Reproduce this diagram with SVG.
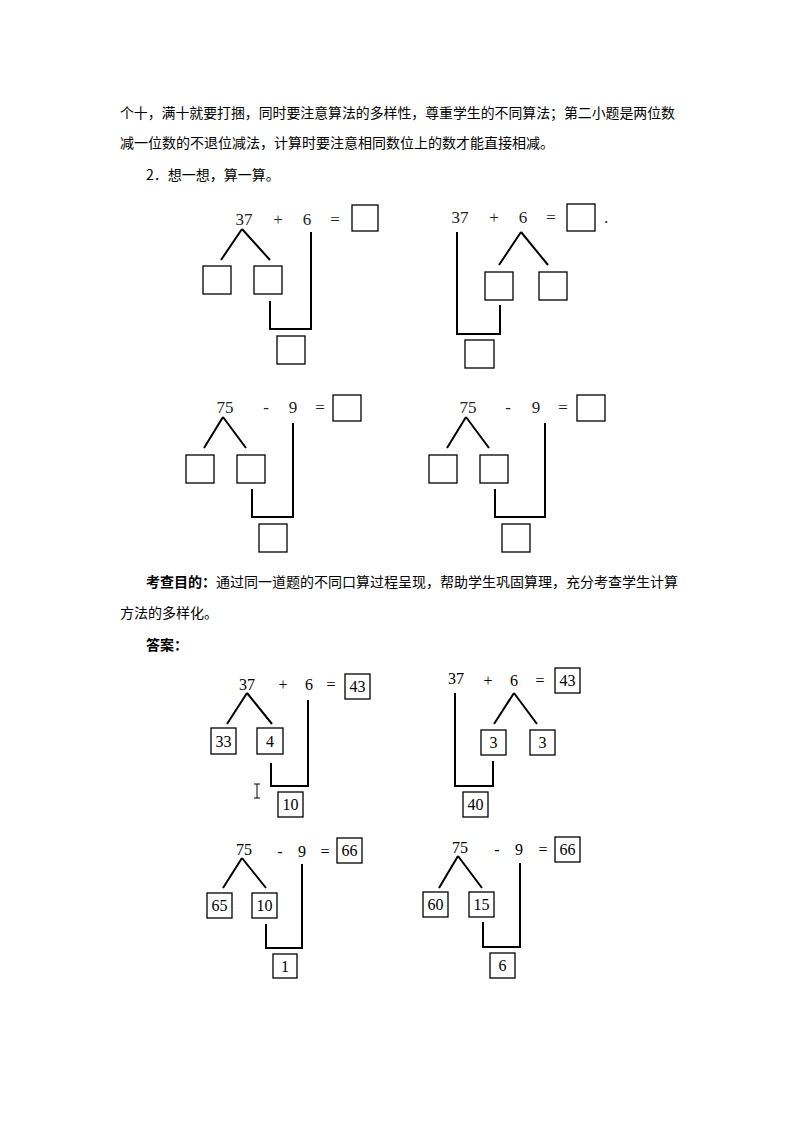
<svg xmlns="http://www.w3.org/2000/svg" width="794" height="1123" viewBox="0 0 794 1123">
<style>
.t{font-family:"Noto Sans CJK SC","Liberation Sans",sans-serif;font-size:14px;fill:#000}
.b{font-weight:bold}
.n{font-family:"Liberation Serif",serif;font-size:17px;fill:#222;text-anchor:middle}
.a{font-family:"Liberation Serif",serif;font-size:16px;fill:#000;text-anchor:middle}
.bx{fill:#fff;stroke:#000;stroke-width:1.3}
.ln{fill:none;stroke:#000;stroke-width:2}
</style>
<rect width="794" height="1123" fill="#fff"/>
<g id="text">
<text class="t" x="120" y="118" textLength="555" lengthAdjust="spacingAndGlyphs">个十，满十就要打捆，同时要注意算法的多样性，尊重学生的不同算法；第二小题是两位数</text>
<text class="t" x="120" y="148">减一位数的不退位减法，计算时要注意相同数位上的数才能直接相减。</text>
<text class="t" x="146" y="180">2．想一想，算一算。</text>
<text class="t" x="146" y="587"><tspan class="b">考查目的：</tspan>通过同一道题的不同口算过程呈现，帮助学生巩固算理，充分考查学生计算</text>
<text class="t" x="120" y="618">方法的多样化。</text>
<text class="t b" x="146" y="650">答案：</text>
</g>
<g id="connectors">
<path class="ln" d="M242 229L221 260M242 229L270 260M311 232V329H270V301"/>
<path class="ln" d="M457 232V334H500V305M521 232L499 265M521 232L548 265"/>
<path class="ln" d="M223 417L204 448M223 417L246 448M293 423V517H252V489"/>
<path class="ln" d="M466 417L447 448M466 417L489 448M545 423V517H495V489"/>
<path class="ln" d="M247 693L227 724M247 693L272 724M308 700V786H271V763"/>
<path class="ln" d="M455 693V786H493V761M514 693L494 724M514 693L537 724"/>
<path class="ln" d="M242 858L223 888M242 858L266 888M302 864V948H266V924"/>
<path class="ln" d="M458 856L439 888M458 856L482 888M520 863V947H483V922"/>
</g>
<g id="q1">
<text class="n" x="244" y="225">37</text><text class="n" x="278" y="225">+</text><text class="n" x="307" y="225">6</text><text class="n" x="335" y="225">=</text>
<rect class="bx" x="352" y="205" width="26" height="26"/><rect class="bx" x="203" y="266" width="28" height="28"/><rect class="bx" x="254" y="266" width="28" height="28"/><rect class="bx" x="277" y="336" width="28" height="28"/>
</g>
<g id="q2">
<text class="n" x="460" y="223">37</text><text class="n" x="494" y="223">+</text><text class="n" x="523" y="223">6</text><text class="n" x="551" y="223">=</text><text class="n" x="606" y="223" font-size="10">.</text>
<rect class="bx" x="567" y="204" width="28" height="27"/><rect class="bx" x="485" y="272" width="28" height="28"/><rect class="bx" x="539" y="272" width="28" height="28"/><rect class="bx" x="465" y="340" width="29" height="28"/>
</g>
<g id="q3">
<text class="n" x="225" y="413">75</text><text class="n" x="266" y="413">-</text><text class="n" x="293" y="413">9</text><text class="n" x="320" y="413">=</text>
<rect class="bx" x="333" y="395" width="28" height="26"/><rect class="bx" x="186" y="455" width="28" height="28"/><rect class="bx" x="237" y="455" width="28" height="28"/><rect class="bx" x="259" y="524" width="28" height="28"/>
</g>
<g id="q4">
<text class="n" x="468" y="413">75</text><text class="n" x="508" y="413">-</text><text class="n" x="536" y="413">9</text><text class="n" x="563" y="413">=</text>
<rect class="bx" x="577" y="395" width="28" height="26"/><rect class="bx" x="429" y="455" width="28" height="28"/><rect class="bx" x="480" y="455" width="28" height="28"/><rect class="bx" x="502" y="524" width="28" height="28"/>
</g>
<g id="a1">
<text class="a" x="247" y="690">37</text><text class="a" x="283" y="690">+</text><text class="a" x="309" y="690">6</text><text class="a" x="331" y="690">=</text>
<rect class="bx" x="345" y="674" width="25" height="25"/><text class="a" x="357.5" y="692">43</text>
<rect class="bx" x="211" y="728" width="25" height="26"/><text class="a" x="223.5" y="747">33</text>
<rect class="bx" x="257" y="728" width="26" height="26"/><text class="a" x="270" y="747">4</text>
<rect class="bx" x="278" y="792" width="25" height="25"/><text class="a" x="290.5" y="810">10</text>
<path d="M254 784H260M257 784V798M254 798H260" stroke="#000" fill="none" stroke-width="1"/>
</g>
<g id="a2">
<text class="a" x="456" y="684">37</text><text class="a" x="488" y="686">+</text><text class="a" x="514" y="686">6</text><text class="a" x="540" y="686">=</text>
<rect class="bx" x="555" y="668" width="25" height="25"/><text class="a" x="567.5" y="686">43</text>
<rect class="bx" x="481" y="730" width="25" height="25"/><text class="a" x="493.5" y="748">3</text>
<rect class="bx" x="530" y="730" width="25" height="25"/><text class="a" x="542.5" y="748">3</text>
<rect class="bx" x="463" y="792" width="25" height="25"/><text class="a" x="475.5" y="810">40</text>
</g>
<g id="a3">
<text class="a" x="244" y="855">75</text><text class="a" x="280" y="857">-</text><text class="a" x="302" y="857">9</text><text class="a" x="325" y="857">=</text>
<rect class="bx" x="337" y="838" width="25" height="25"/><text class="a" x="349.5" y="856">66</text>
<rect class="bx" x="207" y="893" width="25" height="25"/><text class="a" x="219.5" y="911">65</text>
<rect class="bx" x="252" y="893" width="25" height="25"/><text class="a" x="264.5" y="911">10</text>
<rect class="bx" x="273" y="954" width="24" height="24"/><text class="a" x="285" y="972">1</text>
</g>
<g id="a4">
<text class="a" x="460" y="853">75</text><text class="a" x="497" y="855">-</text><text class="a" x="519" y="855">9</text><text class="a" x="543" y="855">=</text>
<rect class="bx" x="555" y="837" width="25" height="25"/><text class="a" x="567.5" y="855">66</text>
<rect class="bx" x="423" y="892" width="25" height="25"/><text class="a" x="435.5" y="910">60</text>
<rect class="bx" x="469" y="892" width="25" height="25"/><text class="a" x="481.5" y="910">15</text>
<rect class="bx" x="490" y="953" width="25" height="25"/><text class="a" x="502.5" y="971">6</text>
</g>
</svg>
